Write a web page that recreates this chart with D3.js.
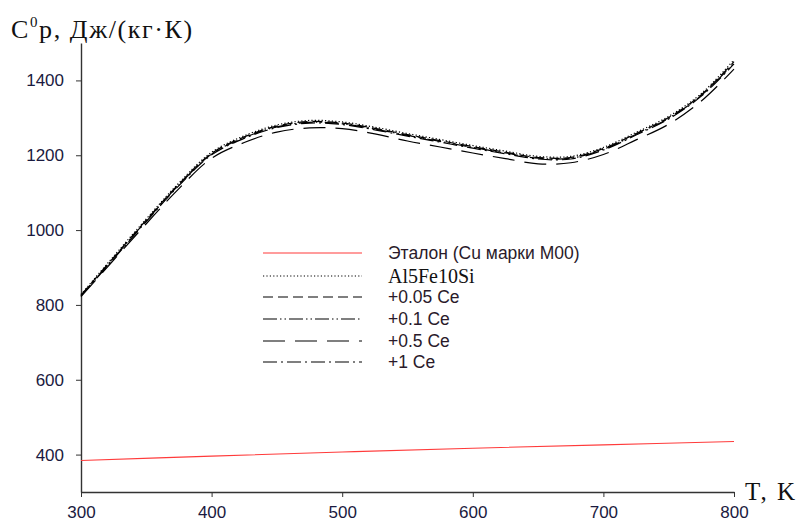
<!DOCTYPE html>
<html>
<head>
<meta charset="utf-8">
<script src="https://cdn.jsdelivr.net/npm/d3@7"></script>
<style>
  body { margin: 0; background: #fff; }
  svg { display: block; }
</style>
</head>
<body>
<svg id="chart" width="800" height="526"></svg>
<script>
// Temperature grid, K
const temps = [300, 325, 350, 375, 400, 425, 450, 475, 500, 525, 550, 575, 600, 625, 650, 675, 700, 725, 750, 775, 800];

// Reference copper (M00) heat capacity, J/(kg·K)
const cuTemps = [300, 400, 500, 600, 700, 800];
const cuValues = [384, 396, 407, 417, 426, 435];

// Alloy heat capacity, J/(kg·K)
const al5fe10si = [828, 930, 1030, 1126, 1208, 1252, 1281, 1293, 1289, 1275, 1258, 1242, 1226, 1211, 1197, 1197, 1221, 1261, 1304, 1365, 1455];
const ce005     = [826, 927, 1027, 1123, 1205, 1249, 1278, 1290, 1286, 1272, 1255, 1239, 1223, 1208, 1194, 1194, 1218, 1258, 1301, 1362, 1450];
const ce01      = [825, 925, 1025, 1121, 1203, 1247, 1276, 1288, 1284, 1270, 1253, 1237, 1221, 1206, 1192, 1192, 1216, 1256, 1299, 1360, 1447];
const ce05      = [822, 920, 1017, 1111, 1192, 1234, 1262, 1273, 1271, 1257, 1238, 1222, 1206, 1191, 1177, 1180, 1202, 1241, 1283, 1345, 1430];
const ce1       = [824, 923, 1023, 1119, 1201, 1245, 1274, 1286, 1282, 1268, 1251, 1235, 1219, 1204, 1190, 1190, 1214, 1254, 1297, 1358, 1444];

const xTicks = [300, 400, 500, 600, 700, 800];
const yTicks = [400, 600, 800, 1000, 1200, 1400];

const series = [
  { name: "Эталон (Cu марки М00)", x: cuTemps, y: cuValues, color: "#ff3b3b", dash: null, serif: false },
  { name: "Al5Fe10Si", x: temps, y: al5fe10si, color: "#000", dash: "1.2,2.2", serif: true },
  { name: "+0.05 Ce", x: temps, y: ce005, color: "#000", dash: "10,5", serif: false },
  { name: "+0.1 Ce", x: temps, y: ce01, color: "#000", dash: "14,3,1.5,3,1.5,3", serif: false },
  { name: "+0.5 Ce", x: temps, y: ce05, color: "#000", dash: "22,10", serif: false },
  { name: "+1 Ce", x: temps, y: ce1, color: "#000", dash: "14,4,2,4", serif: false }
];

const svg = d3.select("#chart");

const x = d3.scaleLinear().domain([300, 800]).range([81, 734]);
const y = d3.scaleLinear().domain([300, 1500]).range([492, 43]);

const sans = "'Liberation Sans', Arial, sans-serif";
const serif = "'Liberation Serif', 'Times New Roman', serif";

// Axes
const xAxis = svg.append("g")
  .attr("transform", `translate(0,${y(300)})`)
  .call(d3.axisBottom(x).tickValues(xTicks).tickFormat(d3.format("d")).tickSize(5).tickSizeOuter(0));
const yAxis = svg.append("g")
  .attr("transform", `translate(${x(300)},0)`)
  .call(d3.axisLeft(y).tickValues(yTicks).tickFormat(d3.format("d")).tickSize(5).tickSizeOuter(0));

[xAxis, yAxis].forEach(g => {
  g.select(".domain").attr("stroke", "#333").attr("stroke-width", 1.4);
  g.selectAll(".tick line").attr("stroke", "#333").attr("stroke-width", 1);
  g.selectAll(".tick text").attr("fill", "#1a1a40").attr("font-family", sans).attr("font-size", 17);
});
xAxis.selectAll(".tick text").attr("y", 14).attr("dy", "0.71em");
yAxis.selectAll(".tick text").attr("x", -17);

// Axis titles
const yTitle = svg.append("text")
  .attr("x", 11).attr("y", 38)
  .attr("font-family", serif).attr("font-size", 26).attr("letter-spacing", 1.6).attr("fill", "#111");
yTitle.append("tspan").text("C");
yTitle.append("tspan").attr("font-size", 15).attr("dy", -11).text("0");
yTitle.append("tspan").attr("dy", 11).text("p, Дж/(кг·К)");

svg.append("text")
  .attr("x", 745).attr("y", 500)
  .attr("font-family", serif).attr("font-size", 25).attr("letter-spacing", 2).attr("fill", "#111")
  .text("T, K");

// Curves
const line = d3.line().curve(d3.curveCatmullRom.alpha(0.5));
series.forEach(s => {
  const pts = s.x.map((t, i) => [x(t), y(s.y[i])]);
  svg.append("path")
    .attr("d", line(pts))
    .attr("fill", "none")
    .attr("stroke", s.color)
    .attr("stroke-width", s.color === "#000" ? 1.2 : 1.1)
    .attr("stroke-dasharray", s.dash);
});

// Legend
const legendRows = [253, 276, 297, 319, 341, 362];
const legend = svg.append("g");
series.forEach((s, i) => {
  const cy = legendRows[i];
  legend.append("line")
    .attr("x1", 263).attr("x2", 362).attr("y1", cy).attr("y2", cy)
    .attr("stroke", s.color).attr("stroke-width", 1.2)
    .attr("stroke-dasharray", s.dash);
  legend.append("text")
    .attr("x", 388).attr("y", cy).attr("dy", "0.35em")
    .attr("font-family", s.serif ? serif : sans)
    .attr("font-size", s.serif ? 20 : 17.5)
    .attr("fill", s.serif ? "#111" : "#2a1a2a")
    .text(s.name);
});
</script>
</body>
</html>
